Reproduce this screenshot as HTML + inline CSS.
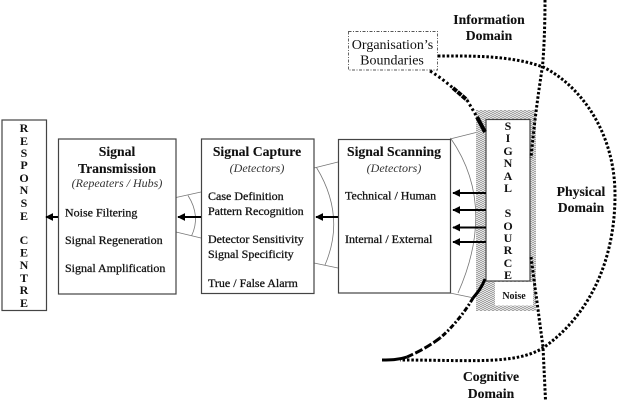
<!DOCTYPE html>
<html><head><meta charset="utf-8"><style>
html,body{margin:0;padding:0;background:#fff}
svg{display:block;filter:blur(.3px)}
text{font-family:"Liberation Serif",serif;fill:#111}
.t{font-weight:bold;font-size:13.7px;text-anchor:middle;stroke:#111;stroke-width:.1px}
.b{font-size:12px;stroke:#111;stroke-width:.28px}
.i{font-style:italic;font-size:12px;text-anchor:middle;fill:#333}
.v{font-weight:bold;font-size:12px;text-anchor:middle}
</style></head><body>
<svg width="617" height="400" viewBox="0 0 617 400" xmlns="http://www.w3.org/2000/svg">
<defs>
<pattern id="h" width="4" height="4" patternUnits="userSpaceOnUse"><rect width="4" height="4" fill="#e4e4e4"/><path d="M0 0h2v1H0zM2 1h2v1H2zM0 2h2v1H0zM2 3h2v1H2z" fill="#a4a4a4"/></pattern>
<marker id="a" markerWidth="4" markerHeight="4" refX="3.6" refY="2" orient="auto"><path d="M0 0L4 2L0 4Z" fill="#000"/></marker>
</defs>
<rect width="617" height="400" fill="#fff"/>
<g fill="none" stroke="#777" stroke-width="0.8">
<path d="M176 197.500L201 192M176 232L201 238M188 195.500Q201 216 191.500 236"/>
<path d="M314 168L338 162M314 263L338 268M316.500 167.500Q346 216 325 265"/>
<path d="M450 139L478 132M450 293L474 298M450.500 138Q497 205 458 293"/>
</g>
<rect x="476" y="110" width="60" height="201" fill="url(#h)"/>
<rect x="495" y="282" width="38" height="23.500" fill="#fff"/>
<g fill="#fff" stroke="#444" stroke-width="1.2">
<rect x="2" y="120" width="44.500" height="190.500"/>
<rect x="58.500" y="139" width="117.500" height="155"/>
<rect x="201.500" y="139" width="112.500" height="154.500"/>
<rect x="338.500" y="139.500" width="112" height="153.500"/>
<rect x="486" y="119.500" width="44" height="161.500"/>
</g>
<rect x="348.500" y="31.500" width="89" height="38.500" fill="#fff" stroke="#555" stroke-width="0.9" stroke-dasharray="3 1.500 1 1.500"/>
<g fill="none" stroke="#000" stroke-width="2" marker-end="url(#a)">
<path d="M338 217H316"/>
<path d="M201 217H178"/>
<path d="M58 217H46"/>
<path d="M486 193H453"/>
<path d="M486 210H453"/>
<path d="M486 227.500H453"/>
<path d="M486 242H453"/>
</g>
<g fill="none" stroke="#000" stroke-width="3" stroke-dasharray="2.500 1.900">
<path d="M545 0C545 25 544 50 542.500 66C538 95 534 125 531 158"/>
<path d="M531 257L543 347L545.500 400"/>
<path d="M438 56C470 56 510 55 543 67C578 84 615 130 615 195C615 260 590 315 543 348C515 365 470 360 400 360"/>
</g>
<g fill="none" stroke="#000" stroke-width="3">
<path d="M430 71C440 77 447 83 453 88" stroke-dasharray="2.500 2.500"/>
<path d="M453 88L467 100" stroke-width="4" stroke-dasharray="5 1"/>
<path d="M467 100L477 117" stroke-dasharray="2.500 2.500"/>
<path d="M477 117L485 132" stroke-width="4"/>
<path d="M485 279C482 287 478 292 473 298"/>
<path d="M473 298C465 312 452 328 440 338" stroke-dasharray="5 2 2 2"/>
<path d="M440 338C428 347 418 352 407 357" stroke-dasharray="8 2.500"/>
<path d="M407 357C398 360 390 360 382 360"/>
</g>
<text class="t" x="489" y="24">Information</text>
<text class="t" x="489" y="40">Domain</text>
<text class="t" x="581" y="196">Physical</text>
<text class="t" x="581" y="212">Domain</text>
<text class="t" x="491" y="381">Cognitive</text>
<text class="t" x="491" y="398">Domain</text>
<text x="392.500" y="49" font-size="14" text-anchor="middle">Organisation’s</text>
<text x="392" y="64.500" font-size="14" text-anchor="middle">Boundaries</text>
<text x="514" y="299" font-size="10" font-weight="bold" text-anchor="middle">Noise</text>

<text class="t" x="117" y="156">Signal</text>
<text class="t" x="117" y="173">Transmission</text>
<text class="i" x="117" y="187">(Repeaters / Hubs)</text>
<text class="b" x="65" y="216.500">Noise Filtering</text>
<text class="b" x="65" y="244">Signal Regeneration</text>
<text class="b" x="65" y="272">Signal Amplification</text>

<text class="t" x="257" y="156">Signal Capture</text>
<text class="i" x="257" y="172">(Detectors)</text>
<text class="b" x="208" y="200">Case Definition</text>
<text class="b" x="208" y="215">Pattern Recognition</text>
<text class="b" x="208" y="243">Detector Sensitivity</text>
<text class="b" x="208" y="258">Signal Specificity</text>
<text class="b" x="208" y="287">True / False Alarm</text>

<text class="t" x="394" y="156">Signal Scanning</text>
<text class="i" x="394" y="172">(Detectors)</text>
<text class="b" x="345" y="199.500">Technical / Human</text>
<text class="b" x="345" y="243">Internal / External</text>

<g>
<text class="v" x="508" y="130">S</text><text class="v" x="508" y="142">I</text><text class="v" x="508" y="155">G</text><text class="v" x="508" y="167">N</text><text class="v" x="508" y="180">A</text><text class="v" x="508" y="192">L</text>
<text class="v" x="508" y="217">S</text><text class="v" x="508" y="230">O</text><text class="v" x="508" y="242">U</text><text class="v" x="508" y="254">R</text><text class="v" x="508" y="267">C</text><text class="v" x="508" y="279">E</text>
<text class="v" x="24" y="132">R</text><text class="v" x="24" y="145">E</text><text class="v" x="24" y="157">S</text><text class="v" x="24" y="169">P</text><text class="v" x="24" y="182">O</text><text class="v" x="24" y="194">N</text><text class="v" x="24" y="207">S</text><text class="v" x="24" y="220">E</text>
<text class="v" x="24" y="244">C</text><text class="v" x="24" y="256.500">E</text><text class="v" x="24" y="269">N</text><text class="v" x="24" y="282">T</text><text class="v" x="24" y="294">R</text><text class="v" x="24" y="307">E</text>
</g>
</svg>
</body></html>
